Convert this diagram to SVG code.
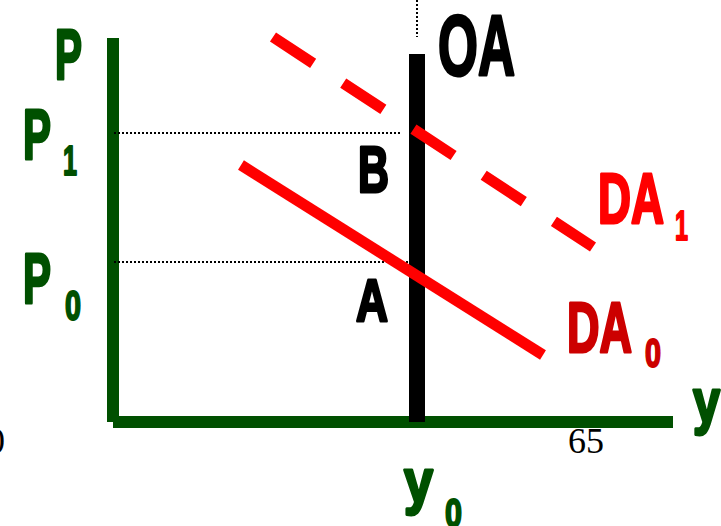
<svg xmlns="http://www.w3.org/2000/svg" width="721" height="526" viewBox="0 0 721 526">
<style>
.t{font-family:"Liberation Sans",Arial,sans-serif;font-weight:bold;stroke-width:3;stroke-linejoin:round}
.g{fill:#005000;stroke:#005000}
.k{fill:#000;stroke:#000}
.r{fill:#ff0000;stroke:#ff0000}
.dr{fill:#cc0000;stroke:#cc0000}
.s{stroke-width:2}
.dot{stroke:#000;stroke-width:2;stroke-dasharray:2 2;fill:none}
</style>
<rect width="721" height="526" fill="#fff"/>
<g id="axes">
<rect x="107" y="38" width="12" height="384" fill="#005000"/>
<rect x="113" y="416" width="560" height="12" fill="#005000"/>
</g>
<g id="connectors">
<line class="dot" x1="114" y1="133" x2="400" y2="133"/>
<line class="dot" x1="114" y1="262" x2="408" y2="262"/>
<line class="dot" x1="417" y1="0" x2="417" y2="37"/>
<rect x="409" y="54" width="16" height="368" fill="#000"/>
<line x1="273" y1="37" x2="593" y2="247" stroke="#ff0000" stroke-width="11" stroke-dasharray="48 36"/>
<line x1="241" y1="165" x2="543" y2="355" stroke="#ff0000" stroke-width="11"/>
</g>
<g id="P">
<text class="t g" x="55" y="79" font-size="70" textLength="27" lengthAdjust="spacingAndGlyphs">P</text>
</g>
<g id="P1">
<text class="t g" x="23" y="159" font-size="70" textLength="28" lengthAdjust="spacingAndGlyphs">P</text>
<text class="t g s" x="63" y="175" font-size="42" textLength="14" lengthAdjust="spacingAndGlyphs">1</text>
</g>
<g id="P0">
<text class="t g" x="23" y="303" font-size="70" textLength="28" lengthAdjust="spacingAndGlyphs">P</text>
<text class="t g s" x="65" y="320" font-size="42" textLength="16" lengthAdjust="spacingAndGlyphs">0</text>
</g>
<g id="OA">
<text class="t k" x="438" y="75" font-size="85" textLength="77" lengthAdjust="spacingAndGlyphs">OA</text>
</g>
<g id="B">
<text class="t k" x="358" y="192" font-size="65" textLength="31" lengthAdjust="spacingAndGlyphs">B</text>
</g>
<g id="A">
<text class="t k" x="356" y="321" font-size="60" textLength="32" lengthAdjust="spacingAndGlyphs">A</text>
</g>
<g id="DA1">
<text class="t r" x="598" y="223" font-size="70" textLength="66" lengthAdjust="spacingAndGlyphs">DA</text>
<text class="t r s" x="675" y="240" font-size="42" textLength="13" lengthAdjust="spacingAndGlyphs">1</text>
</g>
<g id="DA0">
<text class="t dr" x="567" y="352" font-size="70" textLength="65" lengthAdjust="spacingAndGlyphs">DA</text>
<text class="t dr s" x="645" y="367" font-size="41" textLength="16" lengthAdjust="spacingAndGlyphs">0</text>
</g>
<g id="y">
<text class="t g" x="693" y="422" font-size="62" textLength="27" lengthAdjust="spacingAndGlyphs">y</text>
</g>
<g id="y0">
<text class="t g" x="404" y="502" font-size="62" textLength="29" lengthAdjust="spacingAndGlyphs">y</text>
<text class="t g s" x="445" y="527" font-size="41" textLength="17" lengthAdjust="spacingAndGlyphs">0</text>
</g>
<g id="pagenum">
<text x="568" y="453" font-family="'Liberation Serif','Times New Roman',serif" font-size="36" fill="#000">65</text>
<text x="-13" y="453" font-family="'Liberation Serif','Times New Roman',serif" font-size="36" fill="#000">0</text>
</g>
</svg>
